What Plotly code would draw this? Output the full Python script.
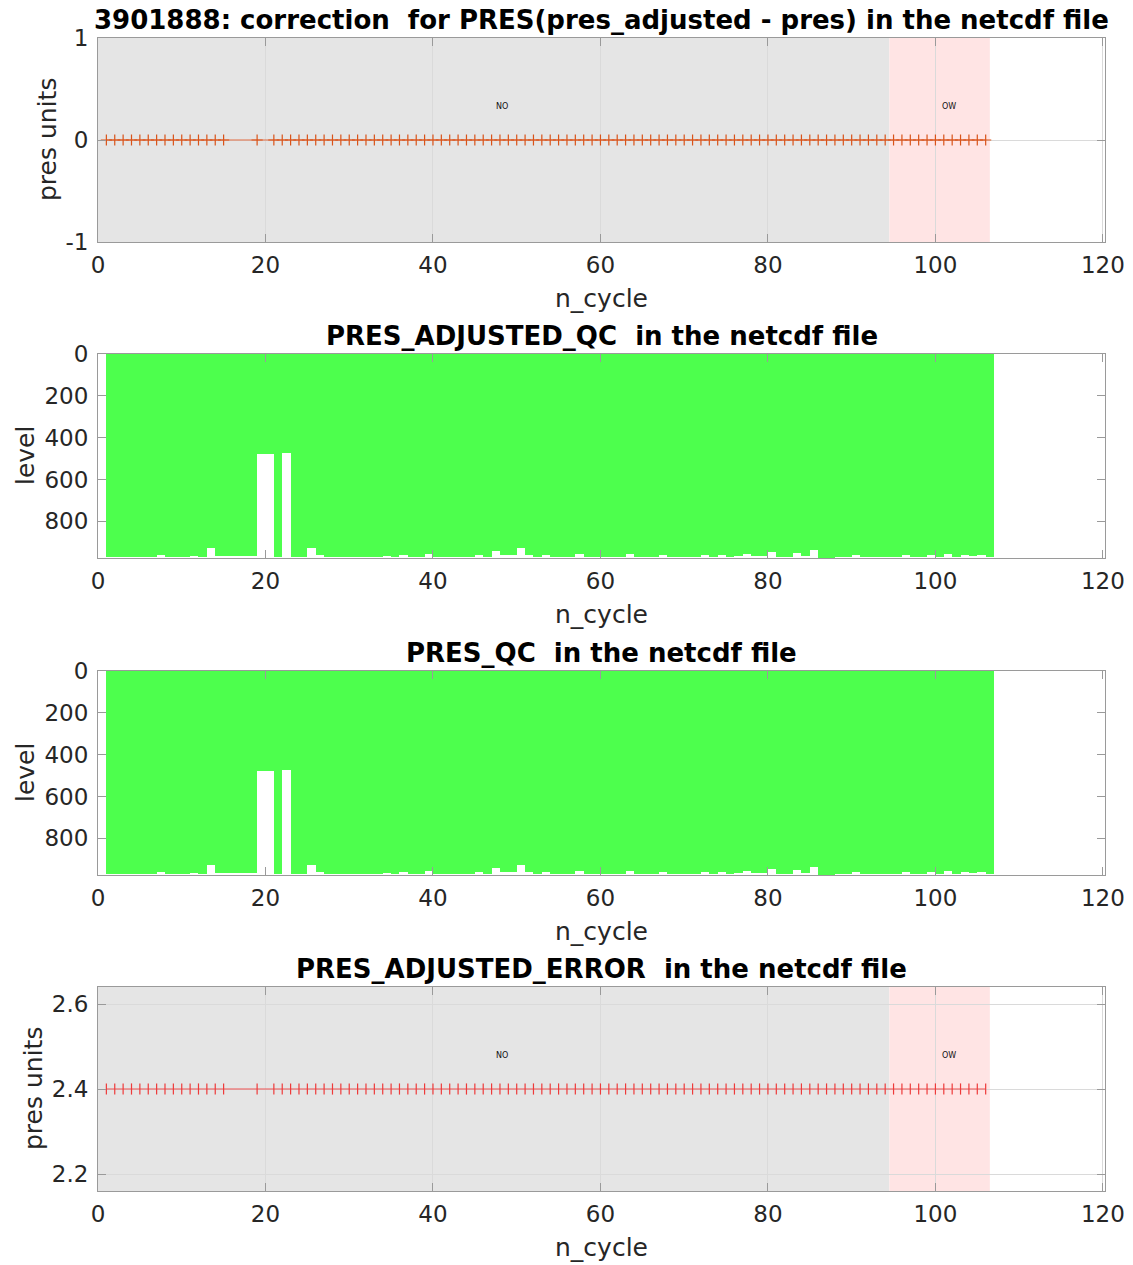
import plotly.graph_objects as go

# ---------------- data ----------------
cycles = [1, 2, 3, 4, 5, 6, 7, 8, 9, 10, 11, 12, 13, 14, 15, 19,
          21, 22, 23, 24, 25, 26, 27, 28, 29, 30, 31, 32, 33, 34, 35, 36, 37, 38, 39, 40,
          41, 42, 43, 44, 45, 46, 47, 48, 49, 50, 51, 52, 53, 54, 55, 56, 57, 58, 59, 60,
          61, 62, 63, 64, 65, 66, 67, 68, 69, 70, 71, 72, 73, 74, 75, 76, 77, 78, 79, 80,
          81, 82, 83, 84, 85, 86, 87, 88, 89, 90, 91, 92, 93, 94, 95, 96, 97, 98, 99, 100,
          101, 102, 103, 104, 105, 106]

pres_correction = [0, 0, 0, 0, 0, 0, 0, 0, 0, 0, 0, 0, 0, 0, 0, 0,
                   0, 0, 0, 0, 0, 0, 0, 0, 0, 0, 0, 0, 0, 0, 0, 0, 0, 0, 0, 0,
                   0, 0, 0, 0, 0, 0, 0, 0, 0, 0, 0, 0, 0, 0, 0, 0, 0, 0, 0, 0,
                   0, 0, 0, 0, 0, 0, 0, 0, 0, 0, 0, 0, 0, 0, 0, 0, 0, 0, 0, 0,
                   0, 0, 0, 0, 0, 0, 0, 0, 0, 0, 0, 0, 0, 0, 0, 0, 0, 0, 0, 0,
                   0, 0, 0, 0, 0, 0]

pres_adjusted_error = [2.4, 2.4, 2.4, 2.4, 2.4, 2.4, 2.4, 2.4, 2.4, 2.4, 2.4, 2.4, 2.4, 2.4, 2.4, 2.4,
                       2.4, 2.4, 2.4, 2.4, 2.4, 2.4, 2.4, 2.4, 2.4, 2.4, 2.4, 2.4, 2.4, 2.4, 2.4, 2.4, 2.4, 2.4, 2.4, 2.4,
                       2.4, 2.4, 2.4, 2.4, 2.4, 2.4, 2.4, 2.4, 2.4, 2.4, 2.4, 2.4, 2.4, 2.4, 2.4, 2.4, 2.4, 2.4, 2.4, 2.4,
                       2.4, 2.4, 2.4, 2.4, 2.4, 2.4, 2.4, 2.4, 2.4, 2.4, 2.4, 2.4, 2.4, 2.4, 2.4, 2.4, 2.4, 2.4, 2.4, 2.4,
                       2.4, 2.4, 2.4, 2.4, 2.4, 2.4, 2.4, 2.4, 2.4, 2.4, 2.4, 2.4, 2.4, 2.4, 2.4, 2.4, 2.4, 2.4, 2.4, 2.4,
                       2.4, 2.4, 2.4, 2.4, 2.4, 2.4]

# number of levels with QC flag in each profile (depth of the green column)
pres_adjusted_qc_levels = [970, 970, 972, 970, 970, 970, 961, 972, 972, 970, 965, 972, 927, 965, 965, 477,
                           970, 471, 970, 972, 927, 961, 970, 970, 972, 970, 970, 970, 972, 965, 970, 961, 970, 970, 954, 970,
                           970, 970, 970, 970, 959, 970, 943, 961, 961, 927, 961, 970, 961, 970, 970, 970, 957, 970, 970, 970,
                           970, 970, 957, 970, 970, 970, 961, 970, 970, 970, 970, 961, 970, 959, 970, 967, 954, 967, 967, 946,
                           970, 972, 951, 965, 937, 974, 974, 970, 972, 961, 970, 970, 972, 970, 972, 961, 972, 969, 961, 972,
                           956, 972, 961, 965, 962, 969]

pres_qc_levels = [970, 970, 972, 970, 970, 970, 961, 972, 972, 970, 965, 972, 927, 965, 965, 477,
                  970, 471, 970, 972, 927, 961, 970, 970, 972, 970, 970, 970, 972, 965, 970, 961, 970, 970, 954, 970,
                  970, 970, 970, 970, 959, 970, 943, 961, 961, 927, 961, 970, 961, 970, 970, 970, 957, 970, 970, 970,
                  970, 970, 957, 970, 970, 970, 961, 970, 970, 970, 970, 961, 970, 959, 970, 967, 954, 967, 967, 946,
                  970, 972, 951, 965, 937, 974, 974, 970, 972, 961, 970, 970, 972, 970, 972, 961, 972, 969, 961, 972,
                  956, 972, 961, 965, 962, 969]

region_names = ["NO", "OW"]
region_start = [0, 94.5]
region_end = [94.5, 106.5]

x_ticks = [0, 20, 40, 60, 80, 100, 120]

titles = ["3901888: correction  for PRES(pres_adjusted - pres) in the netcdf file",
          "PRES_ADJUSTED_QC  in the netcdf file",
          "PRES_QC  in the netcdf file",
          "PRES_ADJUSTED_ERROR  in the netcdf file"]

# ---------------- styling / layout ----------------
W, H = 1133, 1265
LEFT, RIGHT = 98, 1105
tops = [38, 354, 671, 987]
bottoms = [242, 558, 875, 1191]
ylabel_shift = [-51, -73, -73, -65]
region_colors = ["#e5e5e5", "#ffe4e4"]
green = "#4dff4d"
axis_col = "#9a9a9a"
txt_col = "#262626"
FONT = "DejaVu Sans"
TICK_SIZE = 23
LABEL_SIZE = 25
TITLE_SIZE = 26

fig = go.Figure()

# panel 1: correction
fig.add_trace(go.Scatter(x=cycles, y=pres_correction, mode="lines+markers",
                         line=dict(color="#e06a40", width=1),
                         marker=dict(symbol="cross-thin", size=8,
                                     line=dict(color="#d95319", width=1.2)),
                         xaxis="x", yaxis="y", showlegend=False))

# panels 2 & 3: QC columns, each profile fills the cell up to the next cycle
edges = cycles[1:] + [cycles[-1] + 1]
centers = [(a + b) / 2 for a, b in zip(cycles, edges)]
widths = [b - a for a, b in zip(cycles, edges)]
for levels, xa, ya in [(pres_adjusted_qc_levels, "x2", "y2"), (pres_qc_levels, "x3", "y3")]:
    fig.add_trace(go.Bar(x=centers, y=levels, width=widths, base=0,
                         marker=dict(color=green, line=dict(width=0)),
                         xaxis=xa, yaxis=ya, showlegend=False))

# panel 4: adjusted error
fig.add_trace(go.Scatter(x=cycles, y=pres_adjusted_error, mode="lines+markers",
                         line=dict(color="#ee5050", width=1),
                         marker=dict(symbol="line-ns", size=8,
                                     line=dict(color="#ee3a3a", width=1.2)),
                         xaxis="x4", yaxis="y4", showlegend=False))

shapes = []
annotations = []
for p in [1, 4]:
    xr = "x" if p == 1 else "x%d" % p
    yr = "y" if p == 1 else "y%d" % p
    for name, s, e, c in zip(region_names, region_start, region_end, region_colors):
        shapes.append(dict(type="rect", xref=xr, yref=yr + " domain", x0=s, x1=e, y0=0, y1=1,
                           fillcolor=c, line=dict(width=0), layer="below"))
        annotations.append(dict(text=name, xref=xr, yref=yr + " domain", x=(s + e) / 2, y=2 / 3,
                                xanchor="left", yanchor="middle", showarrow=False,
                                font=dict(family=FONT, size=8, color="#111111")))

layout = dict(width=W, height=H, autosize=False,
              margin=dict(l=0, r=0, t=0, b=0, pad=0, autoexpand=False),
              paper_bgcolor="white", plot_bgcolor="white",
              font=dict(family=FONT, color=txt_col),
              bargap=0, barmode="overlay",
              shapes=shapes)

xdom = [LEFT / W, RIGHT / W]
for i in range(4):
    p = i + 1
    ydom = [1 - bottoms[i] / H, 1 - tops[i] / H]
    xk = "xaxis" if p == 1 else "xaxis%d" % p
    yk = "yaxis" if p == 1 else "yaxis%d" % p
    anc_x = "y" if p == 1 else "y%d" % p
    anc_y = "x" if p == 1 else "x%d" % p
    grid = p in (1, 4)
    layout[xk] = dict(domain=xdom, anchor=anc_x, range=[0, 120.25], automargin=False,
                      tickvals=x_ticks, ticktext=[str(v) for v in x_ticks],
                      ticks="inside", ticklen=8, tickcolor=axis_col,
                      showline=True, linecolor=axis_col, linewidth=1, mirror="ticks",
                      showgrid=grid, gridcolor="#dadada", zeroline=False,
                      ticklabelstandoff=2,
                      tickfont=dict(size=TICK_SIZE, color=txt_col, family=FONT))
    if p == 1:
        yv = [-1, 0, 1]
        ya = dict(range=[-1, 1], tickvals=yv, ticktext=["-1", "0", "1"])
    elif p in (2, 3):
        yv = [0, 200, 400, 600, 800]
        ya = dict(range=[975, 0], tickvals=yv, ticktext=[str(v) for v in yv])
    else:
        yv = [2.2, 2.4, 2.6]
        ya = dict(range=[2.16, 2.64], tickvals=yv, ticktext=["2.2", "2.4", "2.6"])
    ya.update(domain=ydom, anchor=anc_y, automargin=False,
              ticks="inside", ticklen=8, tickcolor=axis_col,
              showline=True, linecolor=axis_col, linewidth=1, mirror="ticks",
              showgrid=grid, gridcolor="#dadada", zeroline=False,
              ticklabelstandoff=4,
              tickfont=dict(size=TICK_SIZE, color=txt_col, family=FONT))
    layout[yk] = ya

    xr = "x" if p == 1 else "x%d" % p
    yr = "y" if p == 1 else "y%d" % p
    # title
    annotations.append(dict(text="<b>%s</b>" % titles[i], xref=xr + " domain", yref=yr + " domain",
                            x=0.5, y=1, xanchor="center", yanchor="bottom", yshift=1,
                            showarrow=False, font=dict(family=FONT, size=TITLE_SIZE, color="#000000")))
    # x label
    annotations.append(dict(text="n_cycle", xref=xr + " domain", yref=yr + " domain",
                            x=0.5, y=0, xanchor="center", yanchor="middle", yshift=-56,
                            showarrow=False, font=dict(family=FONT, size=LABEL_SIZE, color=txt_col)))
    # y label
    ylab = "pres units" if p in (1, 4) else "level"
    annotations.append(dict(text=ylab, xref=xr + " domain", yref=yr + " domain",
                            x=0, y=0.5, xanchor="center", yanchor="middle", xshift=ylabel_shift[i],
                            textangle=-90, showarrow=False,
                            font=dict(family=FONT, size=LABEL_SIZE, color=txt_col)))

layout["annotations"] = annotations
fig.update_layout(**layout)

fig.write_html("out.html", config={"displayModeBar": False},
               post_script="document.body.style.margin='0px';")
